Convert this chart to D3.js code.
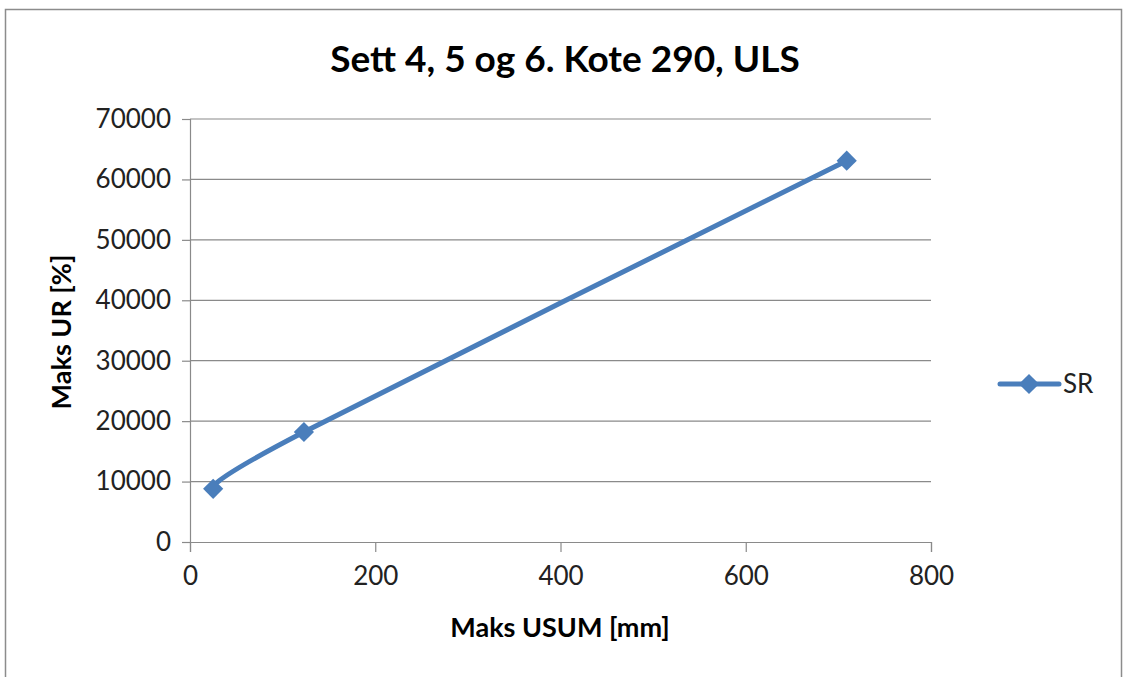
<!DOCTYPE html>
<html><head><meta charset="utf-8">
<script src="https://cdn.jsdelivr.net/npm/d3@7"></script>
<style>body{margin:0;background:#fff}svg{display:block}</style>
</head><body>
<script>
const title = "Sett 4, 5 og 6. Kote 290, ULS";
const xLabel = "Maks USUM [mm]";
const yLabel = "Maks UR [%]";
const seriesName = "SR";
const xValues = [25, 123, 709];
const yValues = [8800, 18200, 63100];
const xTicks = [0, 200, 400, 600, 800];
const yTicks = [0, 10000, 20000, 30000, 40000, 50000, 60000, 70000];

const W = 1123, H = 677;
const font = "Lato, 'Open Sans', sans-serif";
const blue = "#4a7ebb";
const svg = d3.select("body").append("svg").attr("width", W).attr("height", H);
svg.append("rect").attr("x", 5.5).attr("y", 9.5).attr("width", 1116).attr("height", 680)
  .attr("fill", "#fff").attr("stroke", "#8c8c8c").attr("stroke-width", 1.5);

const x = d3.scaleLinear().domain([0, 800]).range([190, 931]);
const y = d3.scaleLinear().domain([0, 70000]).range([542, 119]);

// gridlines
svg.append("g").selectAll("line").data(yTicks.slice(1)).join("line")
  .attr("x1", x(0)).attr("x2", x(800)).attr("y1", d => y(d)).attr("y2", d => y(d))
  .attr("stroke", "#8a8a8a").attr("stroke-width", 1.2);

const yAxis = svg.append("g").attr("transform", `translate(${x(0)},0)`)
  .call(d3.axisLeft(y).tickValues(yTicks).tickSize(8).tickPadding(19).tickFormat(d3.format("d")));
const xAxis = svg.append("g").attr("transform", `translate(0,${y(0)})`)
  .call(d3.axisBottom(x).tickValues(xTicks).tickSize(10).tickPadding(15).tickFormat(d3.format("d")));
[yAxis, xAxis].forEach(a => {
  a.select(".domain").attr("stroke", "#8a8a8a").attr("stroke-width", 1.2);
  a.selectAll(".tick line").attr("stroke", "#8a8a8a").attr("stroke-width", 1.2);
  a.selectAll("text").attr("font-family", font).attr("font-size", 26).attr("fill", "#222");
});
yAxis.selectAll(".tick text").attr("x", -19);

const pts = xValues.map((v, i) => [v, yValues[i]]);
const line = d3.line().x(d => x(d[0])).y(d => y(d[1])).curve(d3.curveCardinal.tension(0));
svg.append("path").attr("d", line(pts)).attr("fill", "none").attr("stroke", blue)
  .attr("stroke-width", 5).attr("stroke-linecap", "round");
const diamond = d3.symbol().type(d3.symbolDiamond2).size(260);
svg.append("g").selectAll("path").data(pts).join("path")
  .attr("transform", d => `translate(${x(d[0])},${y(d[1])})`).attr("d", diamond).attr("fill", blue);

svg.append("text").attr("x", 565).attr("y", 72).attr("text-anchor", "middle")
  .attr("font-family", font).attr("font-weight", "bold").attr("font-size", 37).attr("fill", "#000").text(title);
svg.append("text").attr("x", 560).attr("y", 637).attr("text-anchor", "middle")
  .attr("font-family", font).attr("font-weight", "bold").attr("font-size", 27).attr("fill", "#000").text(xLabel);
svg.append("text").attr("transform", "translate(71,332) rotate(-90)").attr("text-anchor", "middle")
  .attr("font-family", font).attr("font-weight", "bold").attr("font-size", 27).attr("fill", "#000").text(yLabel);

// legend
const lg = svg.append("g");
lg.append("line").attr("x1", 1000).attr("x2", 1059).attr("y1", 384).attr("y2", 384)
  .attr("stroke", blue).attr("stroke-width", 5).attr("stroke-linecap", "round");
lg.append("path").attr("transform", "translate(1029,384)").attr("d", diamond).attr("fill", blue);
lg.append("text").attr("x", 1063).attr("y", 393).attr("font-family", font).attr("font-size", 26)
  .attr("fill", "#222").text(seriesName);
</script>
</body></html>
